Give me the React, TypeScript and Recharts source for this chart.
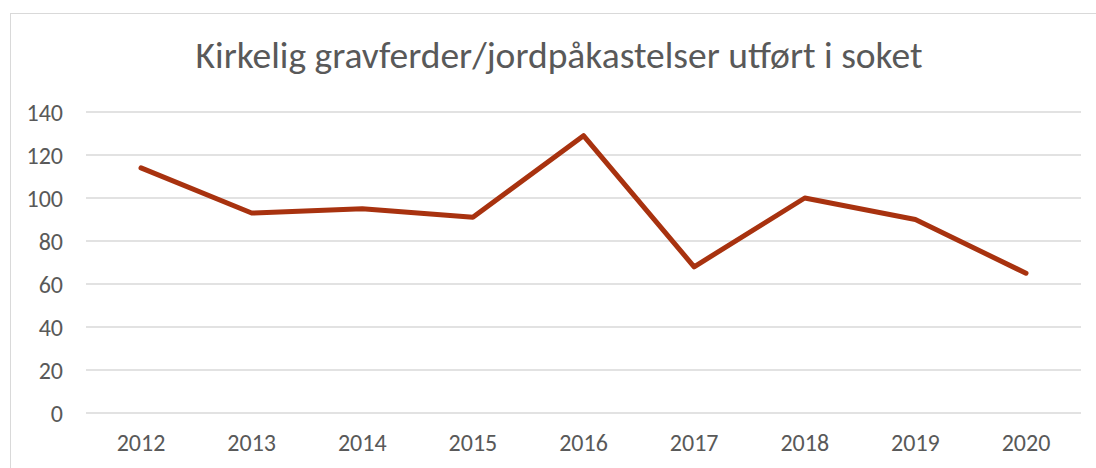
import { LineChart, Line, XAxis, YAxis, CartesianGrid } from 'recharts';

const years = ['2012', '2013', '2014', '2015', '2016', '2017', '2018', '2019', '2020'];
const burials = [114, 93, 95, 91, 129, 68, 100, 90, 65];
const yTicks = [0, 20, 40, 60, 80, 100, 120, 140];

const chartData = years.map((year, i) => ({ year, value: burials[i] }));

const font = 'Calibri, Carlito, "Open Sans", sans-serif';
const textColor = '#595959';

export default function App() {
  return (
    <div style={{ position: 'absolute', left: 0, top: 0, width: 1096, height: 468, overflow: 'hidden', background: '#fff' }}>
      <div
        style={{
          position: 'absolute',
          left: 10,
          top: 13,
          width: 1120,
          height: 500,
          border: '1px solid #d9d9d9',
        }}
      />
      <LineChart
        width={1096}
        height={468}
        data={chartData}
        margin={{ top: 112, right: 15, left: 0, bottom: 0 }}
        style={{ position: 'absolute', left: 0, top: 0 }}
      >
        <CartesianGrid vertical={false} stroke="#d9d9d9" strokeWidth={1.3} />
        <XAxis
          dataKey="year"
          height={55}
          axisLine={false}
          tickLine={false}
          tickSize={0}
          tickMargin={21}
          padding={{ left: 55, right: 55 }}
          tick={{ fill: textColor, fontSize: 24, fontFamily: font }}
        />
        <YAxis
          width={86}
          domain={[0, 140]}
          ticks={yTicks}
          axisLine={false}
          tickLine={false}
          tickSize={0}
          tickMargin={23}
          tick={{ fill: textColor, fontSize: 24, fontFamily: font }}
        />
        <Line
          type="linear"
          dataKey="value"
          stroke="#A8320F"
          strokeWidth={5}
          strokeLinecap="round"
          strokeLinejoin="round"
          dot={false}
          activeDot={false}
          isAnimationActive={false}
        />
      </LineChart>
      <svg width={1096} height={100} style={{ position: 'absolute', left: 0, top: 0, pointerEvents: 'none' }}>
        <text x={559} y={68} textAnchor="middle" fill={textColor} fontSize={37.5} fontFamily={font}>
          Kirkelig gravferder/jordpåkastelser utført i soket
        </text>
      </svg>
    </div>
  );
}
